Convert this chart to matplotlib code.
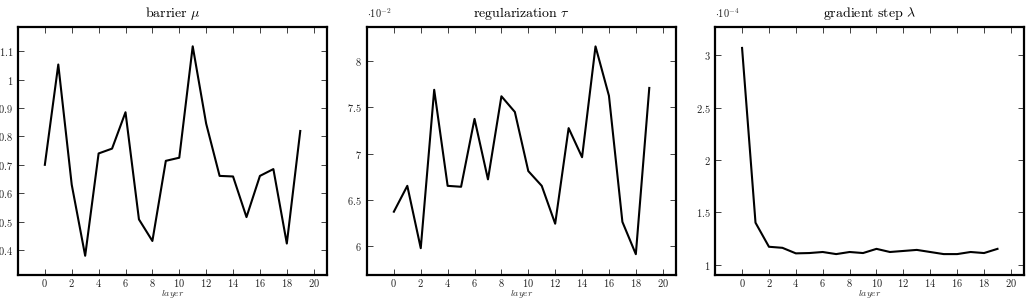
import matplotlib
matplotlib.use("Agg")
import matplotlib.pyplot as plt
import numpy as np
from matplotlib.ticker import FuncFormatter, MultipleLocator

plt.rcParams['mathtext.fontset'] = 'cm'
plt.rcParams['font.family'] = ['DejaVu Serif']

# datos
layers = np.arange(20)
mu = [0.70, 1.053, 0.63, 0.38, 0.74, 0.757, 0.885, 0.508, 0.432, 0.714,
      0.725, 1.117, 0.845, 0.661, 0.659, 0.516, 0.661, 0.685, 0.423, 0.819]
tau = np.array([6.37, 6.65, 5.975, 7.69, 6.65, 6.64, 7.375, 6.72, 7.62, 7.45,
                6.81, 6.65, 6.24, 7.275, 6.96, 8.16, 7.625, 6.26, 5.91, 7.71]) * 1e-2
lam = np.array([3.07, 1.40, 1.17, 1.16, 1.107, 1.11, 1.12, 1.10, 1.12, 1.11,
                1.15, 1.12, 1.13, 1.14, 1.12, 1.10, 1.10, 1.12, 1.11, 1.15]) * 1e-4

titles = [r'$\mathrm{barrier}\ \mu$', r'$\mathrm{regularization}\ \tau$',
          r'$\mathrm{gradient\ step}\ \lambda$']
series = [mu, tau, lam]
scales = [1, 1e-2, 1e-4]
offsets = [None, r'$\cdot 10^{-2}$', r'$\cdot 10^{-4}$']
ylims = [(0.314, 1.185), (5.69, 8.37), (0.905, 3.27)]
ysteps = [0.1, 0.5, 0.5]
xticks = np.arange(0, 21, 2)
lefts = [0.0174, 0.3556, 0.693]

fig = plt.figure(figsize=(10.32, 3.0), dpi=100)

for i in range(3):
    ax = fig.add_axes([lefts[i], 0.085, 0.2996, 0.825])
    s = scales[i]
    ax.plot(layers, series[i], color='black', lw=1.5)
    ax.set_xlim(-2, 21)
    ax.set_ylim(ylims[i][0] * s, ylims[i][1] * s)
    ax.set_xticks(xticks)
    ax.yaxis.set_major_locator(MultipleLocator(ysteps[i] * s))
    ax.xaxis.set_major_formatter(FuncFormatter(lambda v, p: f'${v:g}$'))
    ax.yaxis.set_major_formatter(FuncFormatter(lambda v, p, s=s: f'${round(v / s, 3):g}$'))
    ax.tick_params(axis='x', pad=2)
    ax.tick_params(direction='in', top=True, right=True, length=4, width=0.6,
                   labelsize=7.5, colors='#222222')
    for sp in ax.spines.values():
        sp.set_linewidth(1.6)
    ax.set_title(titles[i], fontsize=10, pad=7)
    ax.set_xlabel(r'$layer$', fontsize=7, labelpad=-1, color='#333333')
    if offsets[i]:
        ax.text(0.0, 1.03, offsets[i], transform=ax.transAxes, fontsize=7.5,
                ha='left', va='bottom', color='#222222')

fig.savefig('out.png', dpi=100)
